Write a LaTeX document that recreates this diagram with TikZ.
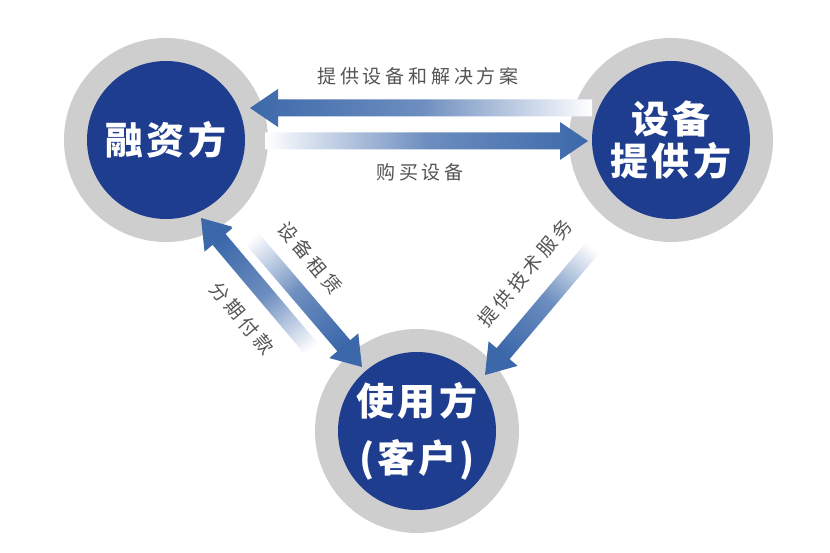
\documentclass[tikz,border=0pt]{standalone}
\usepackage{fontspec}
\usepackage{tikz}
\usetikzlibrary{calc}
\newfontfamily\cjk{Noto Sans CJK SC}
\newfontfamily\cjklabel[LetterSpace=20]{Noto Sans CJK SC}
\newfontfamily\cjkbig[LetterSpace=8]{Noto Sans CJK SC}
\definecolor{discblue}{RGB}{31,61,142}
\definecolor{ringgray}{RGB}{206,206,206}
\definecolor{arrowblue}{RGB}{60,104,170}
\definecolor{labelgray}{RGB}{85,85,85}

% wide arrow with a fading body, from #1 (tail) to #2 (tip)
\newcommand{\fatarrow}[3]{%
  \shade[#3] let \p1=(#1), \p2=(#2),
      \n1={atan2(\y2-\y1,\x2-\x1)}, \n2={veclen(\x2-\x1,\y2-\y1)} in
    ($(\p1)+({\n1+90}:8.5)$) -- ($(\p1)+({\n1}:{\n2-28})+({\n1+90}:8.5)$)
    -- ($(\p1)+({\n1}:{\n2-28})+({\n1+90}:19)$) -- (\p2)
    -- ($(\p1)+({\n1}:{\n2-28})+({\n1-90}:19)$)
    -- ($(\p1)+({\n1}:{\n2-28})+({\n1-90}:8.5)$)
    -- ($(\p1)+({\n1-90}:8.5)$) -- cycle;
}

\begin{document}
\begin{tikzpicture}[
    x=1pt, y=1pt,
    ring/.style={
        circle,
        minimum size=204pt,
        inner sep=0pt,
        fill=ringgray
    },
    disc/.style={
        circle,
        minimum size=158pt,
        inner sep=0pt,
        fill=discblue,
        text=white,
        align=center,
        font=\cjkbig\bfseries\fontsize{38}{42}\selectfont
    },
    flow/.style={
        text=labelgray,
        font=\cjklabel\fontsize{19}{22}\selectfont
    },
    fade/.style={
        top color=white,
        bottom color=arrowblue,
        middle color=arrowblue!75,
        shading angle=#1
    }
]
\useasboundingbox (0,0) rectangle (830,552);
\fill[white] (0,0) rectangle (830,552);

% Rings
\node[ring] (rongzi-ring) at (166,412) {};
\node[ring] (shebei-ring) at (671,412) {};
\node[ring] (yonghu-ring) at (417,121) {};

% Parties
\node[disc] (rongzi) at (rongzi-ring) {融资方};
\node[disc] (shebei) at (shebei-ring) {设备\\提供方};
\node[disc, font=\cjkbig\bfseries\fontsize{38}{57}\selectfont] (yonghu) at (yonghu-ring) {使用方\\(客户)};

% Arrow ends
\coordinate (tigong-from) at (592,444);
\coordinate (tigong-to) at (250,444);
\coordinate (goumai-from) at (265,411);
\coordinate (goumai-to) at (588,411);
\coordinate (fenqi-from) at (325,187);
\coordinate (fenqi-to) at (201,334);
\coordinate (zulin-from) at (238,330);
\coordinate (zulin-to) at (362,185);
\coordinate (jishu-from) at (606,320);
\coordinate (jishu-to) at (485,177);

% Arrows
\fatarrow{tigong-from}{tigong-to}{fade=270}
\fatarrow{goumai-from}{goumai-to}{fade=90}
\fatarrow{fenqi-from}{fenqi-to}{fade=220}
\fatarrow{zulin-from}{zulin-to}{fade=40.5}
\fatarrow{jishu-from}{jishu-to}{fade=320}

% Labels
\node[flow] (tigong-label) at (418,476) {提供设备和解决方案};
\node[flow] (goumai-label) at (420,380) {购买设备};
\node[flow, rotate=-50] (zulin-label) at (310,294) {设备租赁};
\node[flow, rotate=-50] (fenqi-label) at (242,234) {分期付款};
\node[flow, rotate=50] (jishu-label) at (525,279) {提供技术服务};

\end{tikzpicture}
\end{document}
